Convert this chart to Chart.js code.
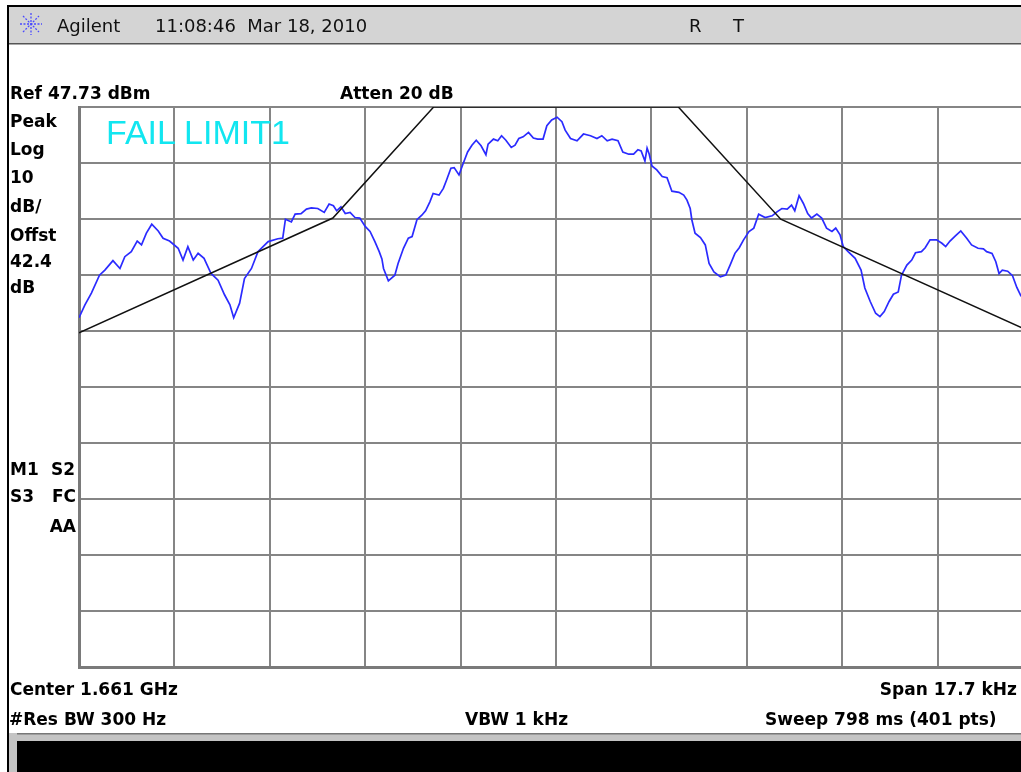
<!DOCTYPE html>
<html>
<head>
<meta charset="utf-8">
<script src="https://cdn.jsdelivr.net/npm/chart.js@4/dist/chart.umd.min.js"></script>
<style>
html, body { margin: 0; padding: 0; width: 1021px; height: 772px; overflow: hidden; background: #fff; }
#plot { position: absolute; left: 69px; top: 97px; }
#over { position: absolute; left: 0; top: 0; }
.hd { font-family: "DejaVu Sans"; font-size: 18px; fill: #111; white-space: pre; }
.lb { font-family: "DejaVu Sans"; font-weight: bold; font-size: 17px; fill: #000; white-space: pre; }
.fail { font-family: "Liberation Sans"; font-size: 34px; fill: #12e6f0; }
</style>
</head>
<body>
<canvas id="plot" width="974" height="580"></canvas>
<svg id="over" width="1021" height="772">
  <rect x="7" y="5" width="1014" height="2" fill="#000"/>
  <rect x="7" y="5" width="2" height="767" fill="#000"/>
  <rect x="9" y="7" width="1012" height="36" fill="#d4d4d4"/>
  <rect x="9" y="43" width="1012" height="1.5" fill="#555"/>
  <g stroke="#4a4aff" stroke-width="1.3" stroke-dasharray="2 1.5">
    <line x1="20" y1="24" x2="42" y2="24"/>
    <line x1="31" y1="13" x2="31" y2="35"/>
    <line x1="23" y1="16" x2="39" y2="32"/>
    <line x1="23" y1="32" x2="39" y2="16"/>
  </g>
  <text class="hd" x="57" y="32">Agilent</text>
  <text class="hd" x="155" y="32">11:08:46  Mar 18, 2010</text>
  <text class="hd" x="689" y="32">R</text>
  <text class="hd" x="733" y="32">T</text>

  <text class="lb" x="10" y="99">Ref 47.73 dBm</text>
  <text class="lb" x="340" y="99">Atten 20 dB</text>

  <text class="lb" x="10" y="127">Peak</text>
  <text class="lb" x="10" y="155">Log</text>
  <text class="lb" x="10" y="183">10</text>
  <text class="lb" x="10" y="212">dB/</text>
  <text class="lb" x="10" y="241">Offst</text>
  <text class="lb" x="10" y="267">42.4</text>
  <text class="lb" x="10" y="293">dB</text>

  <text class="lb" x="10" y="475">M1</text>
  <text class="lb" x="75" y="475" text-anchor="end">S2</text>
  <text class="lb" x="10" y="502">S3</text>
  <text class="lb" x="76" y="502" text-anchor="end">FC</text>
  <text class="lb" x="76" y="532" text-anchor="end">AA</text>

  <text class="fail" x="106" y="144">FAIL LIMIT1</text>

  <text class="lb" x="10" y="695">Center 1.661 GHz</text>
  <text class="lb" x="1017" y="695" text-anchor="end">Span 17.7 kHz</text>
  <text class="lb" x="9" y="725">#Res BW 300 Hz</text>
  <text class="lb" x="465" y="725">VBW 1 kHz</text>
  <text class="lb" x="765" y="725">Sweep 798 ms (401 pts)</text>

  <rect x="9" y="733" width="1012" height="8" fill="#c4c4c4"/>
  <rect x="9" y="733" width="1012" height="1.5" fill="#777"/>
  <rect x="9" y="733" width="8" height="39" fill="#c4c4c4"/>
  <rect x="17" y="741" width="1004" height="31" fill="#000"/>
</svg>
<script>
// frequency offset from 1.661 GHz centre, kHz
var traceFreq = [-8.85,-8.74,-8.62,-8.47,-8.37,-8.22,-8.09,-8.00,-7.88,-7.77,-7.69,-7.60,-7.50,-7.38,-7.29,-7.17,-7.01,-6.92,-6.83,-6.73,-6.64,-6.53,-6.40,-6.27,-6.15,-6.05,-5.98,-5.87,-5.78,-5.65,-5.53,-5.34,-5.16,-5.07,-5.02,-4.91,-4.84,-4.73,-4.63,-4.54,-4.42,-4.30,-4.21,-4.13,-4.07,-3.99,-3.91,-3.82,-3.73,-3.64,-3.54,-3.45,-3.36,-3.28,-3.23,-3.20,-3.11,-2.99,-2.93,-2.83,-2.74,-2.67,-2.58,-2.49,-2.42,-2.34,-2.28,-2.17,-2.09,-2.03,-1.95,-1.89,-1.80,-1.72,-1.64,-1.56,-1.48,-1.39,-1.30,-1.26,-1.16,-1.08,-1.01,-0.93,-0.83,-0.76,-0.69,-0.61,-0.51,-0.42,-0.34,-0.24,-0.17,-0.08,0.02,0.11,0.17,0.27,0.39,0.51,0.64,0.76,0.85,0.95,1.04,1.15,1.24,1.35,1.44,1.52,1.58,1.65,1.69,1.73,1.78,1.87,1.97,2.06,2.15,2.28,2.37,2.43,2.49,2.52,2.58,2.68,2.77,2.84,2.93,3.05,3.15,3.23,3.32,3.40,3.48,3.58,3.67,3.76,3.88,4.01,4.10,4.19,4.29,4.37,4.43,4.51,4.59,4.67,4.74,4.84,4.93,5.02,5.12,5.19,5.27,5.33,5.42,5.55,5.66,5.73,5.83,5.93,6.01,6.09,6.18,6.26,6.35,6.41,6.51,6.60,6.67,6.78,6.85,6.94,7.06,7.16,7.23,7.31,7.41,7.51,7.62,7.71,7.83,7.93,7.99,8.09,8.16,8.22,8.28,8.38,8.47,8.55,8.63];
// trace level, dBm
var traceLevel = [10.1,12.4,14.5,17.7,18.6,20.3,18.9,21.0,21.9,23.8,23.1,25.2,26.8,25.6,24.3,23.8,22.5,20.4,22.8,20.4,21.6,20.7,18.0,16.8,14.2,12.4,10.1,12.7,17.1,18.9,21.9,23.7,24.2,24.3,27.7,27.2,28.6,28.7,29.5,29.7,29.6,28.9,30.4,30.1,29.2,29.9,28.7,28.9,28.0,27.9,26.4,25.5,23.7,21.9,20.6,18.9,16.7,17.7,19.8,22.5,24.3,24.6,27.6,28.4,29.2,30.8,32.3,32.0,33.2,34.7,36.8,36.9,35.6,37.7,39.7,40.9,41.8,40.8,39.2,41.1,42.0,41.7,42.6,41.8,40.5,40.9,42.1,42.4,43.2,42.2,42.0,42.0,44.4,45.4,45.9,45.1,43.6,42.1,41.7,42.9,42.6,42.1,42.6,41.7,42.0,41.7,39.7,39.3,39.3,40.1,39.9,38.1,40.4,39.3,37.2,36.5,35.3,35.1,32.7,32.5,32.0,31.1,29.6,27.6,25.2,24.4,23.1,19.8,18.3,17.4,17.7,19.5,21.6,22.6,24.0,25.5,26.1,28.6,28.0,28.3,29.0,29.6,29.5,30.2,29.2,31.9,30.5,28.7,27.9,28.6,27.9,26.1,25.5,26.1,24.9,22.8,21.9,20.7,18.6,15.4,13.0,10.9,10.3,11.2,13.0,14.3,14.7,17.7,19.5,20.4,21.7,21.9,22.6,24.0,24.0,23.4,22.8,23.8,24.7,25.6,24.3,23.1,22.5,22.4,21.9,21.6,20.1,18.0,18.6,18.4,17.6,15.5,13.9];

// LIMIT1 line
var limitFreq = [-8.85, -4.14, -2.27, 2.27, 4.17, 8.85];
var limitLevel = [7.4, 27.9, 47.73, 47.73, 27.7, 7.4];

// graticule: 10 div x 10 div, ref 47.73 dBm, 10 dB/div
var xTicks = [-8.85, -7.08, -5.31, -3.54, -1.77, 0, 1.77, 3.54, 5.31, 7.08, 8.85];
var yTicks = [47.73, 37.73, 27.73, 17.73, 7.73, -2.27, -12.27, -22.27, -32.27, -42.27, -52.27];

function pts(xs, ys) {
	var out = [];
	for (var i = 0; i < xs.length; i++) out.push({ x: xs[i], y: ys[i] });
	return out;
}

var ctx = document.getElementById('plot').getContext('2d');
var chart = new Chart(ctx, {
	type: 'line',
	data: {
		datasets: [{
			label: 'LIMIT1',
			data: pts(limitFreq, limitLevel),
			borderColor: '#111',
			borderWidth: 1.5,
			pointRadius: 0,
			tension: 0
		}, {
			label: 'Trace',
			data: pts(traceFreq, traceLevel),
			borderColor: '#2b2bff',
			borderWidth: 1.7,
			pointRadius: 0,
			tension: 0
		}]
	},
	options: {
		responsive: false,
		animation: false,
		layout: { padding: 10 },
		plugins: { legend: { display: false }, tooltip: { enabled: false } },
		scales: {
			x: {
				type: 'linear',
				min: xTicks[0],
				max: xTicks[xTicks.length - 1],
				afterBuildTicks: function(s) { s.ticks = xTicks.map(function(v) { return { value: v }; }); },
				ticks: { display: false },
				grid: { color: '#858585', lineWidth: 2, drawTicks: false },
				border: { display: true, color: '#7a7a7a', width: 3 }
			},
			y: {
				type: 'linear',
				min: yTicks[yTicks.length - 1],
				max: yTicks[0],
				afterBuildTicks: function(s) { s.ticks = yTicks.map(function(v) { return { value: v }; }); },
				ticks: { display: false },
				grid: { color: '#858585', lineWidth: 2, drawTicks: false },
				border: { display: true, color: '#7a7a7a', width: 3 }
			}
		}
	}
});
</script>
</body>
</html>
